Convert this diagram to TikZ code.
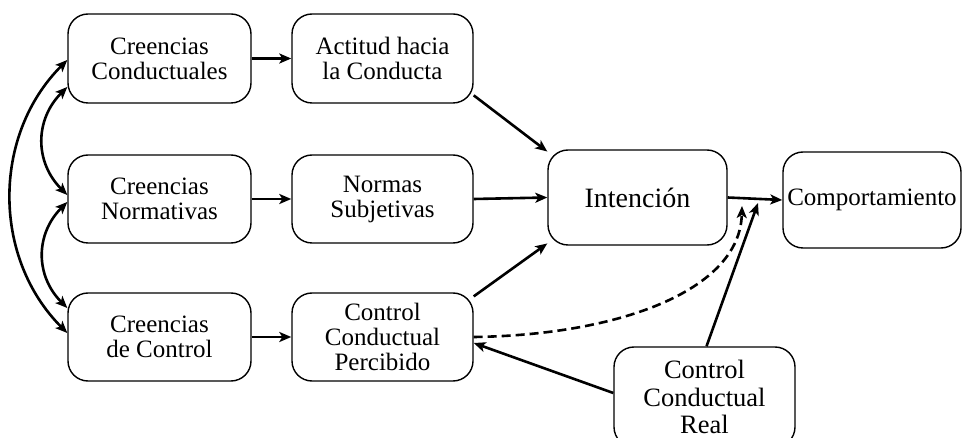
\documentclass[tikz,border=0pt]{standalone}
\usepackage{fontspec}
\setmainfont{Liberation Serif}
\usetikzlibrary{arrows.meta}

\tikzset{
	caja/.style={draw,line width=1.4pt,rounded corners=20pt,minimum width=183pt,minimum height=89pt,inner sep=0pt,align=center,font=\fontsize{25}{25}\selectfont},
	flecha/.style={->,line width=2.6pt},
	doble/.style={<->,line width=2.6pt},
}

\begin{document}
\begin{tikzpicture}[x=1pt,y=1pt,>={Stealth[length=12pt,width=10pt,inset=3pt]}]
		\useasboundingbox (0,0) rectangle (962,-438);

		% The beliefs
		\node[caja] (cc) at (159.5,-58.5) {Creencias\\Conductuales};
		\node[caja,minimum height=88pt] (cn) at (159.5,-199) {Creencias\\Normativas};
		\node[caja,minimum height=88pt] (cdc) at (159.5,-337) {Creencias\\de Control};

		% The second column
		\node[caja,minimum width=181pt] (act) at (382.5,-58.5) {Actitud hacia\\la Conducta};
		\node[caja,minimum width=181pt,minimum height=88pt] (ns) at (382.5,-199) {Normas\\Subjetivas};
		\node[caja,minimum width=181pt,minimum height=88pt] (ccp) at (382.5,-337) {Control\\Conductual\\Percibido};

		% Intention, behaviour and real control
		\node[caja,minimum width=179pt,minimum height=95pt,font=\fontsize{28}{28}\selectfont] (int) at (637.5,-197.5) {Intención};
		\node[caja,minimum width=178pt,minimum height=96pt] (comp) at (872,-200) {Comportamiento};
		\node[caja,minimum width=181pt,minimum height=100pt,font=\fontsize{26.5}{27.5}\selectfont] (ccr) at (704.5,-397) {Control\\Conductual\\Real};

		\coordinate (pr) at (758,-203);
		\coordinate (pd) at (742,-206);

		% The straight arrows
		\draw[flecha] (cc) -- (act);
		\draw[flecha] (cn) -- (ns);
		\draw[flecha] (cdc) -- (ccp);
		\draw[flecha] (act.-22) -- (int.153);
		\draw[flecha] (ns.east) -- (int.west);
		\draw[flecha] (ccp.24) -- (int.207);
		\draw[flecha] (int.east) -- (comp.west);
		\draw[flecha] ([xshift=2pt]ccr.north) -- (pr);
		\draw[flecha] ([yshift=4pt]ccr.west) -- ([yshift=-6pt]ccp.east);
		\draw[flecha,dash pattern=on 9pt off 5pt] (ccp.east) .. controls (620,-335) and (740,-290) .. (pd);

		% The correlations
		\draw[doble] ([yshift=-1.5pt]cc.west) to[out=225,in=135] ([yshift=4pt]cdc.west);
		\draw[doble] ([yshift=-28.5pt]cc.west) to[out=225,in=135,looseness=1.1] ([yshift=4pt]cn.west);
		\draw[doble] ([yshift=-3pt]cn.west) to[out=225,in=135,looseness=1.1] ([yshift=29pt]cdc.west);
\end{tikzpicture}
\end{document}
